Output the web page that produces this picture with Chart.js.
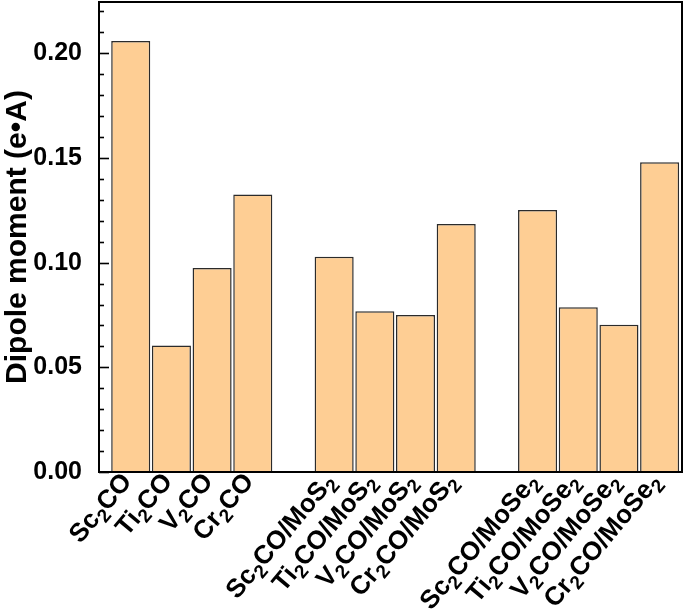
<!DOCTYPE html>
<html>
<head>
<meta charset="utf-8">
<script src="https://cdn.jsdelivr.net/npm/chart.js@4.4.0/dist/chart.umd.min.js"></script>
<style>
  html, body { margin: 0; padding: 0; background: #fff; }
  #wrap { width: 685px; height: 609px; }
</style>
</head>
<body>
<div id="wrap"><canvas id="chart"></canvas></div>
<script>
// categories, '' marks the empty slot between groups
const categories = [
  'Sc₂CO', 'Ti₂CO', 'V₂CO', 'Cr₂CO', '',
  'Sc₂CO/MoS₂', 'Ti₂CO/MoS₂', 'V₂CO/MoS₂', 'Cr₂CO/MoS₂', '',
  'Sc₂CO/MoSe₂', 'Ti₂CO/MoSe₂', 'V₂CO/MoSe₂', 'Cr₂CO/MoSe₂'
];
const dipoleMoment = [
  0.2059, 0.0604, 0.0974, 0.1326, null,
  0.1028, 0.0768, 0.0750, 0.1184, null,
  0.1251, 0.0787, 0.0703, 0.1480
];
const yTicks = [0.00, 0.05, 0.10, 0.15, 0.20];
const yMinorStep = 0.01;

const FONT = "'Liberation Sans', Arial, sans-serif";

const points = [];
categories.forEach((c, i) => {
  if (c !== '') points.push({ x: i + 1, y: dipoleMoment[i] });
});

// frame + inward ticks like the origin-style plot
const framePlugin = {
  id: 'frame',
  afterDraw(chart) {
    const { ctx, chartArea: a } = chart;
    const y = chart.scales.y;
    ctx.save();
    ctx.strokeStyle = '#000';
    ctx.lineWidth = 1.6;
    for (let k = 0; k * yMinorStep <= y.max + 1e-9; k++) {
      const py = Math.round(y.getPixelForValue(k * yMinorStep)) + 0.5;
      const len = k % 5 === 0 ? 10 : 5;
      ctx.beginPath();
      ctx.moveTo(a.left, py);
      ctx.lineTo(a.left + len, py);
      ctx.stroke();
    }
    ctx.lineWidth = 2;
    ctx.strokeRect(a.left, a.top, a.right - a.left, a.bottom - a.top);
    ctx.restore();
  }
};

// x labels drawn with real subscripts (₂ -> small lowered 2)
const labelPlugin = {
  id: 'subLabels',
  afterDraw(chart) {
    const { ctx, chartArea: a } = chart;
    const xs = chart.scales.x;
    const main = 'bold 26px ' + FONT;
    const sub = 'bold 19px ' + FONT;
    const angle = 50 * Math.PI / 180;
    ctx.save();
    ctx.fillStyle = '#000';
    ctx.textBaseline = 'alphabetic';
    categories.forEach((c, i) => {
      if (c === '') return;
      const parts = [];
      for (const ch of c) {
        const isSub = ch === '₂';
        const txt = isSub ? '2' : ch;
        const last = parts[parts.length - 1];
        if (last && last.sub === isSub) last.t += txt;
        else parts.push({ t: txt, sub: isSub });
      }
      let total = 0;
      parts.forEach(p => {
        ctx.font = p.sub ? sub : main;
        p.w = ctx.measureText(p.t).width;
        total += p.w;
      });
      ctx.save();
      ctx.translate(xs.getPixelForValue(i + 1) + 2, a.bottom + 10);
      ctx.rotate(-angle);
      let x = -total;
      parts.forEach(p => {
        ctx.font = p.sub ? sub : main;
        ctx.fillText(p.t, x, p.sub ? 6 : 0);
        x += p.w;
      });
      ctx.restore();
    });
    ctx.restore();
  }
};

new Chart(document.getElementById('chart'), {
  type: 'bar',
  data: {
    datasets: [{
      data: points,
      backgroundColor: 'rgb(254, 206, 148)',
      borderColor: '#2b2b2b',
      borderWidth: 1.5,
      barPercentage: 0.96,
      categoryPercentage: 1
    }]
  },
  options: {
    responsive: true,
    maintainAspectRatio: false,
    animation: false,
    layout: { padding: { top: 2, right: 3, left: 0, bottom: 0 } },
    plugins: { legend: { display: false }, tooltip: { enabled: false } },
    scales: {
      x: {
        type: 'linear',
        offset: false,
        min: 0.22,
        max: 14.55,
        grid: { display: false, drawTicks: false },
        border: { display: false },
        afterBuildTicks(scale) {
          scale.ticks = categories
            .map((c, i) => ({ value: i + 1 }))
            .filter((t, i) => categories[i] !== '');
        },
        afterFit(scale) {
          scale.height = 137;
          scale.paddingLeft = 0;
          scale.paddingRight = 0;
        },
        ticks: { display: false }
      },
      y: {
        min: 0,
        max: 0.2245,
        grid: { display: false, drawTicks: false },
        border: { display: false },
        afterBuildTicks(scale) {
          scale.ticks = yTicks.map(v => ({ value: v }));
        },
        afterFit(scale) {
          scale.width = 99;
          scale.paddingTop = 0;
          scale.paddingBottom = 0;
        },
        ticks: {
          padding: 17,
          color: '#000',
          font: { family: FONT, size: 25, weight: 'bold' },
          callback: (v) => v.toFixed(2)
        },
        title: {
          display: true,
          text: 'Dipole moment (e•A)',
          color: '#000',
          padding: { top: 0, bottom: 0 },
          font: { family: FONT, size: 30, weight: 'bold' }
        }
      }
    }
  },
  plugins: [framePlugin, labelPlugin]
});
</script>
</body>
</html>
